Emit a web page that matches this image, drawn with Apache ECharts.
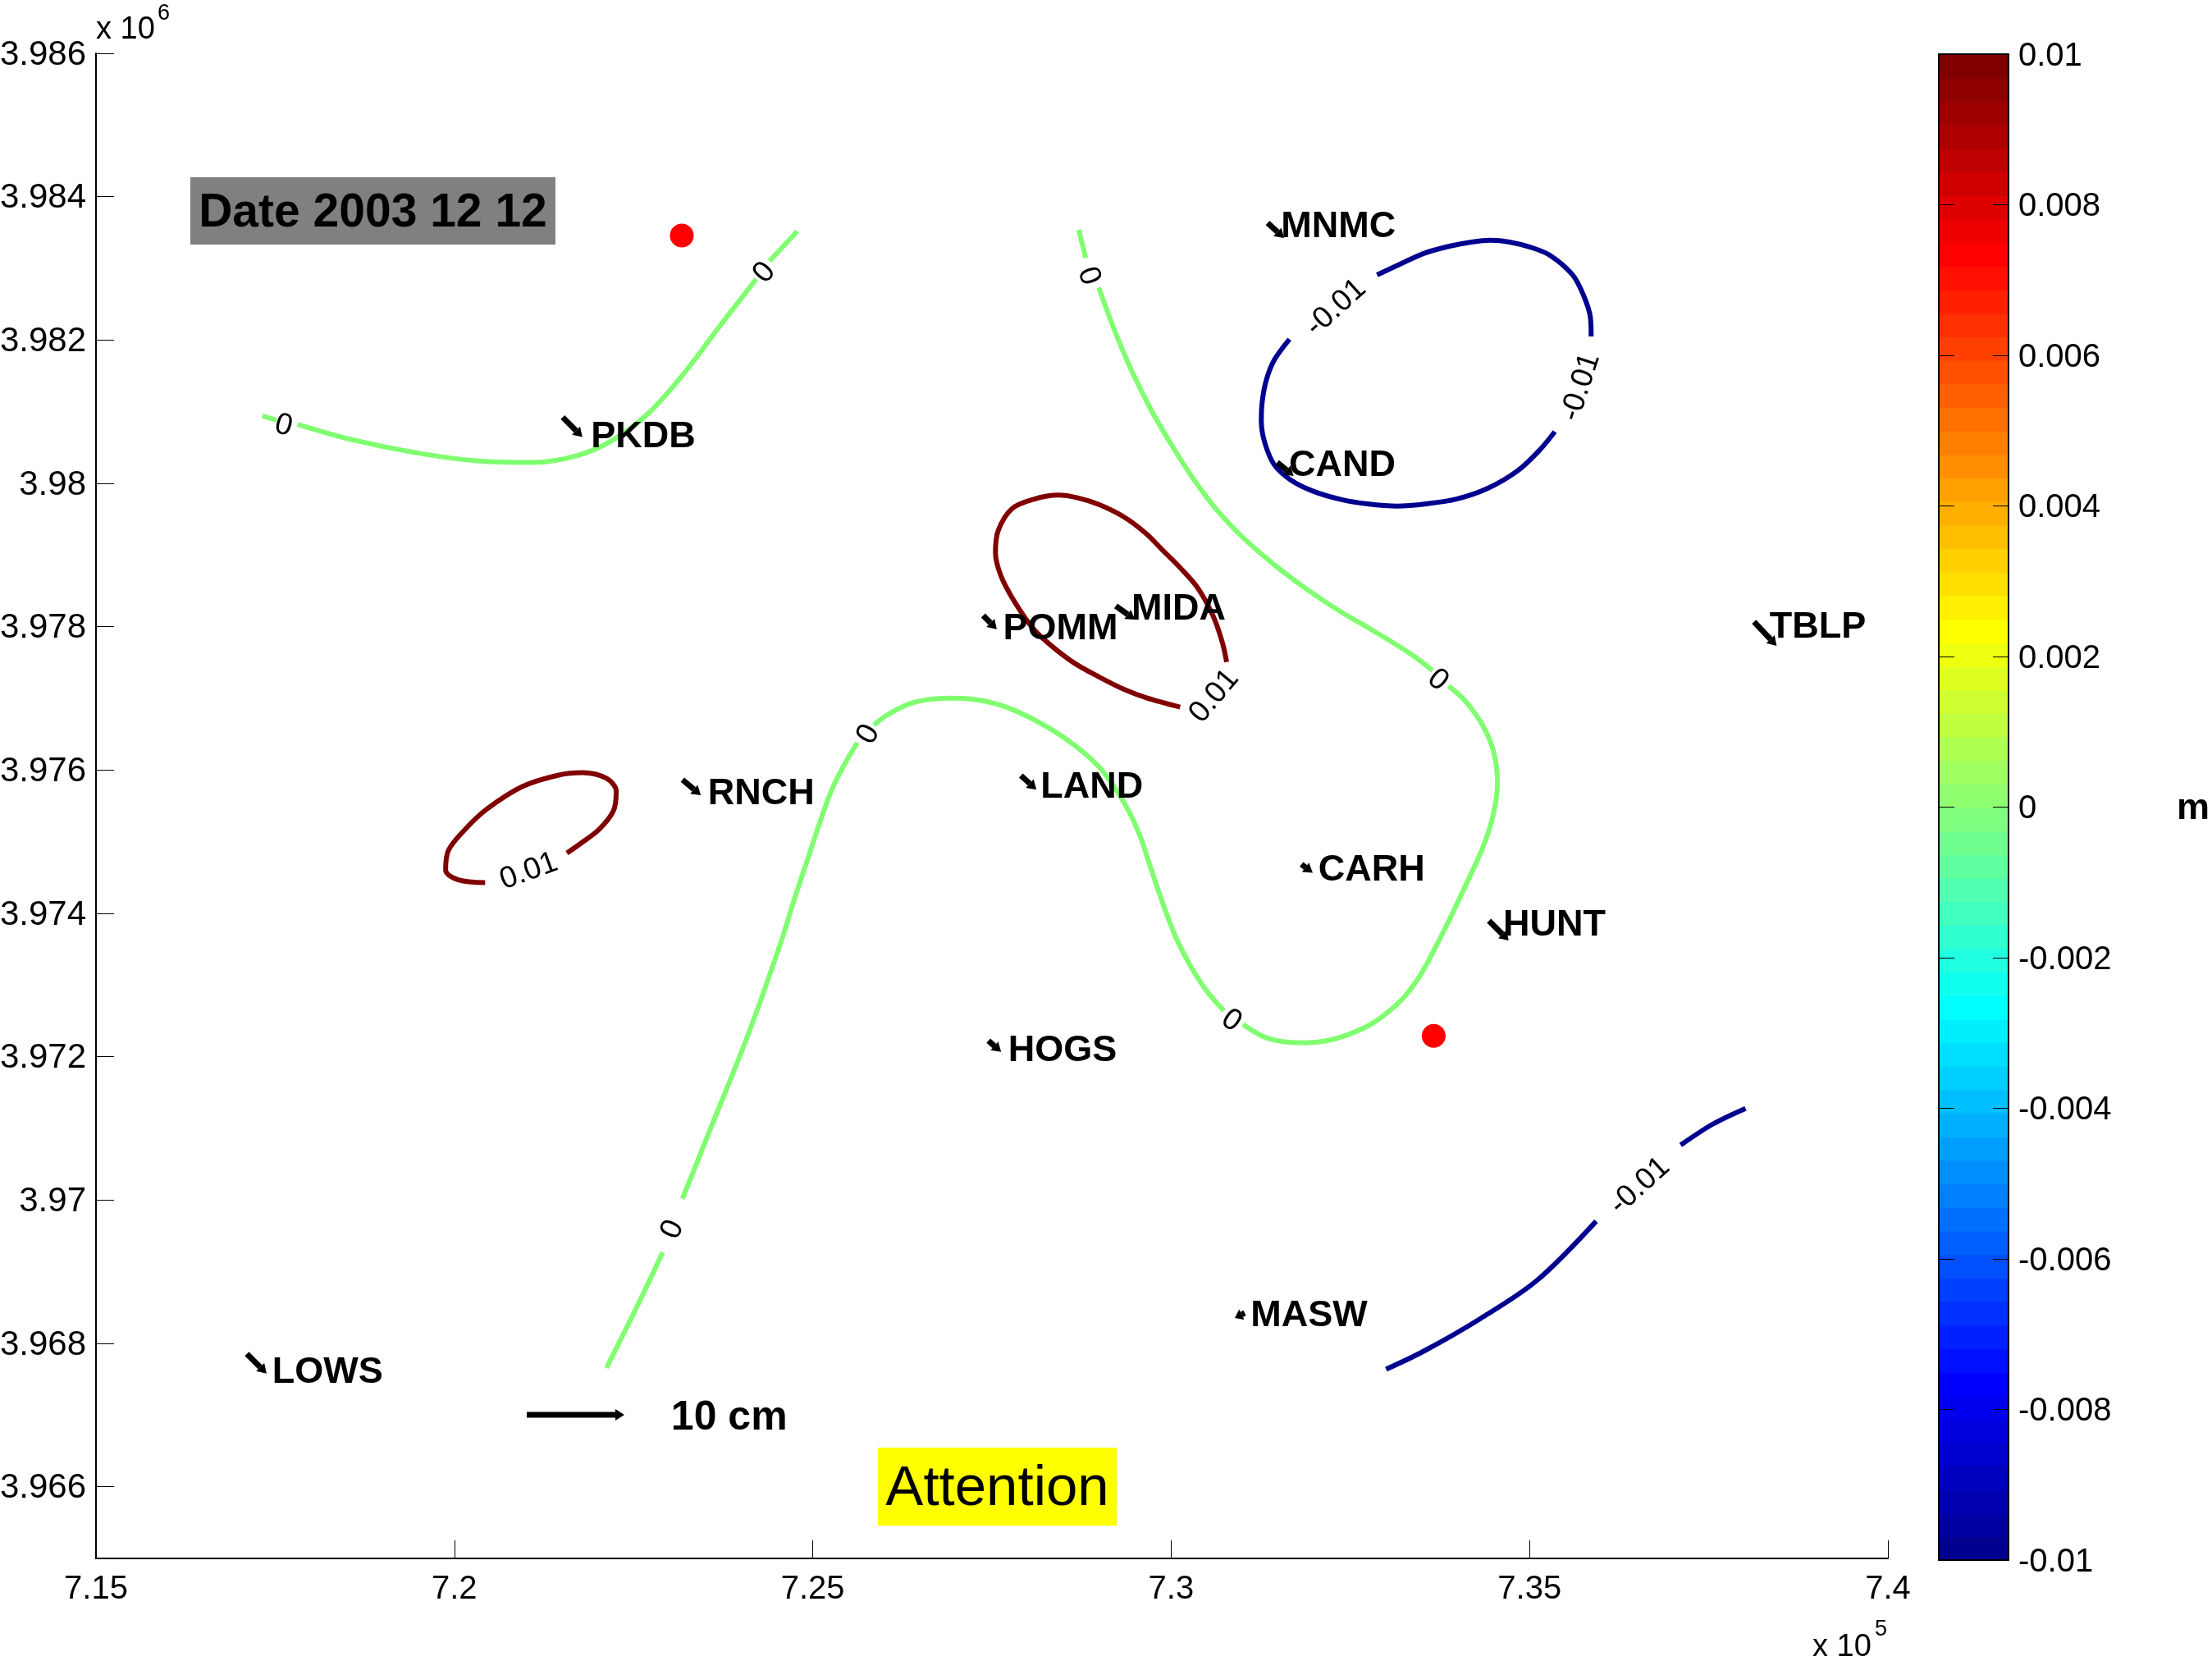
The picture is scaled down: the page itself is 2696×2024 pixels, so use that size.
<!DOCTYPE html>
<html>
<head>
<meta charset="utf-8">
<title>Date 2003 12 12</title>
<script src="https://cdn.jsdelivr.net/npm/echarts@6/dist/echarts.min.js"></script>
<style>
html, body { margin: 0; padding: 0; background: #fff; }
#chart { width: 2696px; height: 2024px; }
</style>
</head>
<body>
<div id="chart"></div>
<script>
'use strict';
// axis ticks, easting / northing in metres
let xTicks = [715000, 720000, 725000, 730000, 735000, 740000];
let yTicks = [3966000, 3968000, 3970000, 3972000, 3974000, 3976000, 3978000, 3980000, 3982000, 3984000, 3986000];

// contour pieces, split where the level label sits
let zeroLeftA = [[717320, 3980940], [717518, 3980883]];
let zeroLeftB = [[717813, 3980824], [718580, 3980608], [719563, 3980411], [720350, 3980312], [721098, 3980293], [721727, 3980391], [722219, 3980608], [722711, 3980982], [723202, 3981533], [723694, 3982182], [724211, 3982851]];
let zeroLeftC = [[724398, 3983103], [724784, 3983519]];
let zeroMainA = [[728710, 3983540], [728808, 3983146]];
let zeroMainB = [[728990, 3982730], [729228, 3982088], [729457, 3981554], [729724, 3981019], [729991, 3980561], [730296, 3980084], [730640, 3979626], [731021, 3979225], [731441, 3978863], [731899, 3978519], [732357, 3978214], [732815, 3977947], [733368, 3977603], [733644, 3977386]];
let zeroMainC = [[733873, 3977173], [734113, 3976952], [734342, 3976630], [734495, 3976269], [734552, 3975827], [734495, 3975385], [734342, 3974902], [734075, 3974321], [733885, 3973920], [733694, 3973539], [733465, 3973119], [733198, 3972775], [732816, 3972470], [732473, 3972310], [732167, 3972222], [731862, 3972195], [731557, 3972210], [731290, 3972279], [731003, 3972451]];
let zeroMainD = [[730736, 3972642], [730488, 3972928], [730278, 3973252], [730088, 3973615], [729935, 3973997], [729801, 3974378], [729687, 3974722], [729572, 3975065], [729419, 3975408], [729191, 3975790], [728962, 3976076], [728656, 3976343], [728351, 3976553], [727969, 3976763], [727588, 3976916], [727206, 3976992], [726901, 3977004], [726596, 3976981], [726329, 3976916], [726061, 3976782], [725852, 3976630]];
let zeroMainE = [[725623, 3976382], [725451, 3976095], [725260, 3975714], [725107, 3975294], [724955, 3974836], [724764, 3974263], [724535, 3973538], [724088, 3972283], [723497, 3970807], [723183, 3970020]];
let zeroMainF = [[722907, 3969272], [722514, 3968445], [722121, 3967658]];
let highCentre = [[730774, 3977507], [730716, 3977775], [730583, 3978156], [730373, 3978538], [730106, 3978843], [729877, 3979072], [729648, 3979301], [729343, 3979530], [728999, 3979702], [728694, 3979798], [728427, 3979836], [728083, 3979779], [727778, 3979645], [727587, 3979340], [727549, 3979034], [727625, 3978710], [727816, 3978347], [728083, 3977965], [728350, 3977717], [728656, 3977488], [728999, 3977297], [729343, 3977126], [729648, 3977011], [730125, 3976878]];
let highLeft = [[720429, 3974428], [720055, 3974468], [719878, 3974605], [719918, 3974881], [720154, 3975176], [720449, 3975452], [720940, 3975766], [721432, 3975924], [721786, 3975963], [722121, 3975884], [722258, 3975707], [722219, 3975432], [722022, 3975176], [721766, 3974979], [721570, 3974841]];
let lowTopA = [[732873, 3982909], [733197, 3983061], [733540, 3983214], [733884, 3983309], [734189, 3983367], [734456, 3983393], [734723, 3983367], [735029, 3983290], [735296, 3983176], [735601, 3982909], [735754, 3982622], [735849, 3982317], [735860, 3982050]];
let lowTopB = [[735353, 3980721], [735143, 3980466], [734838, 3980179], [734418, 3979931], [733980, 3979780], [733559, 3979714], [733158, 3979683], [732739, 3979714], [732357, 3979779], [731975, 3979893], [731670, 3980046], [731441, 3980256], [731308, 3980561], [731258, 3980867], [731270, 3981134], [731327, 3981439], [731441, 3981725], [731651, 3982012]];
let lowBottomA = [[732998, 3967639], [733529, 3967894], [734316, 3968347], [735103, 3968878], [735929, 3969705]];
let lowBottomB = [[737109, 3970768], [737562, 3971063], [738014, 3971279]];

let zeroPieces = [zeroLeftA, zeroLeftB, zeroLeftC, zeroMainA, zeroMainB, zeroMainC, zeroMainD, zeroMainE, zeroMainF];
let highPieces = [highCentre, highLeft];
let lowPieces = [lowTopA, lowTopB, lowBottomA, lowBottomB];

// contour labels
let contourLabelText = ['0', '0', '0', '0', '0', '0', '0', '0.01', '0.01', '-0.01', '-0.01', '-0.01'];
let contourLabelAt = [[717616, 3980804], [724326, 3982939], [728848, 3982891], [733720, 3977253], [730839, 3972501], [725779, 3976495], [723045, 3969587], [730602, 3977030], [721039, 3974586], [732300, 3982451], [735715, 3981344], [736539, 3970197]];
let contourLabelAngle = [-15, 50, -70, -40, -35, 60, 65, 50, 20, 42, 72, 42];

// GPS stations: arrow tail, arrow head, where the name starts
let stationNames = ['PKDB', 'MNMC', 'CAND', 'POMM', 'MIDA', 'TBLP', 'RNCH', 'LAND', 'CARH', 'HUNT', 'HOGS', 'MASW', 'LOWS'];
let stationTail = [[721511, 3980923], [731346, 3983634], [731480, 3980294], [727377, 3978156], [729228, 3978290], [738132, 3978069], [723183, 3975865], [727904, 3975924], [731818, 3974684], [734434, 3973897], [727451, 3972224], [731026, 3968424], [717105, 3967855]];
let stationHead = [[721786, 3980647], [731575, 3983424], [731709, 3980103], [727568, 3977965], [729495, 3978099], [738447, 3977734], [723438, 3975648], [728120, 3975727], [731975, 3974566], [734709, 3973621], [727628, 3972067], [730888, 3968355], [717380, 3967580]];
let stationNameAt = [[721904, 3980686], [731533, 3983622], [731643, 3980286], [727654, 3978011], [729446, 3978282], [738349, 3978030], [723537, 3975707], [728179, 3975806], [732054, 3974645], [734631, 3973877], [727727, 3972126], [731110, 3968426], [717459, 3967639]];

let redDots = [[723173, 3983458], [733663, 3972291]];
let scaleArrow = [721010, 3967004, 722372, 3967004];

// jet, 64 steps, bottom to top of the colour bar
let jetColors = [
    '#000090', '#0000a0', '#0000b0', '#0000bf', '#0000cf', '#0000df', '#0000ef', '#0000ff',
    '#0010ff', '#0020ff', '#0030ff', '#0040ff', '#0050ff', '#0060ff', '#0070ff', '#0080ff',
    '#008fff', '#009fff', '#00afff', '#00bfff', '#00cfff', '#00dfff', '#00efff', '#00ffff',
    '#10ffef', '#20ffdf', '#30ffcf', '#40ffbf', '#50ffaf', '#60ff9f', '#70ff8f', '#80ff80',
    '#8fff70', '#9fff60', '#afff50', '#bfff40', '#cfff30', '#dfff20', '#efff10', '#ffff00',
    '#ffef00', '#ffdf00', '#ffcf00', '#ffbf00', '#ffaf00', '#ff9f00', '#ff8f00', '#ff8000',
    '#ff7000', '#ff6000', '#ff5000', '#ff4000', '#ff3000', '#ff2000', '#ff1000', '#ff0000',
    '#ef0000', '#df0000', '#cf0000', '#bf0000', '#af0000', '#9f0000', '#8f0000', '#800000',
];
let colorMin = -0.01;
let colorMax = 0.01;

let zeroColor = '#80ff70';
let highColor = '#800000';
let lowColor = '#00008f';
let fontName = '"Liberation Sans", Arial, sans-serif';

let myChart = echarts.init(document.getElementById('chart'), null, {renderer: 'canvas'});

function contourSeries(piece, color) {
    return {
        type: 'line',
        data: piece,
        smooth: 0.33,
        showSymbol: false,
        silent: true,
        animation: false,
        lineStyle: {color: color, width: 6, cap: 'butt'},
        z: 2,
    };
}

// quiver style arrow: thick shaft with a small head
function renderArrow(params, api) {
    let a = api.coord([api.value(0), api.value(1)]);
    let b = api.coord([api.value(2), api.value(3)]);
    let len = Math.sqrt((b[0] - a[0]) * (b[0] - a[0]) + (b[1] - a[1]) * (b[1] - a[1]));
    let ux = (b[0] - a[0]) / len;
    let uy = (b[1] - a[1]) / len;
    let headLen = Math.min(11, len * 0.7);
    let headHalf = 7;
    let base = [b[0] - ux * headLen, b[1] - uy * headLen];
    return {
        type: 'group',
        children: [
            {
                type: 'line',
                shape: {x1: a[0], y1: a[1], x2: base[0], y2: base[1]},
                style: {stroke: '#000', lineWidth: 7},
            },
            {
                type: 'polygon',
                shape: {points: [b, [base[0] - uy * headHalf, base[1] + ux * headHalf], [base[0] + uy * headHalf, base[1] - ux * headHalf]]},
                style: {fill: '#000'},
            },
        ],
    };
}

function renderColorCell(params, api) {
    let lo = api.coord([0, api.value(0)]);
    let hi = api.coord([1, api.value(1)]);
    return {
        type: 'rect',
        shape: {x: lo[0], y: hi[1], width: hi[0] - lo[0], height: lo[1] - hi[1] + 1},
        style: {fill: jetColors[params.dataIndex]},
    };
}

let colorCells = [];
for (let i = 0; i < jetColors.length; i++) {
    let step = (colorMax - colorMin) / jetColors.length;
    colorCells.push([colorMin + i * step, colorMin + (i + 1) * step]);
}

let arrowData = [];
for (let i = 0; i < stationNames.length; i++) {
    arrowData.push([stationTail[i][0], stationTail[i][1], stationHead[i][0], stationHead[i][1]]);
}
arrowData.push(scaleArrow);

let contourLabelData = [];
for (let i = 0; i < contourLabelText.length; i++) {
    contourLabelData.push({
        value: contourLabelAt[i],
        label: {formatter: contourLabelText[i], rotate: contourLabelAngle[i]},
    });
}

let stationLabelData = [];
for (let i = 0; i < stationNames.length; i++) {
    stationLabelData.push({value: stationNameAt[i], label: {formatter: stationNames[i]}});
}

let series = [];
zeroPieces.forEach(function(p) { series.push(contourSeries(p, zeroColor)); });
highPieces.forEach(function(p) { series.push(contourSeries(p, highColor)); });
lowPieces.forEach(function(p) { series.push(contourSeries(p, lowColor)); });

series.push({
    type: 'scatter',
    data: redDots,
    symbolSize: 29,
    itemStyle: {color: '#ff0000', opacity: 1},
    silent: true,
    z: 3,
});
series.push({
    type: 'custom',
    data: arrowData,
    renderItem: renderArrow,
    encode: {x: [0, 2], y: [1, 3]},
    silent: true,
    z: 4,
});
series.push({
    type: 'scatter',
    data: contourLabelData,
    symbolSize: 0,
    itemStyle: {opacity: 1},
    silent: true,
    z: 5,
    label: {show: true, position: 'inside', align: 'center', verticalAlign: 'middle', fontFamily: fontName, fontSize: 37, color: '#000'},
});
series.push({
    type: 'scatter',
    data: stationLabelData,
    symbolSize: 0,
    itemStyle: {opacity: 1},
    silent: true,
    z: 5,
    label: {show: true, position: 'inside', offset: [0, 4], align: 'left', verticalAlign: 'middle', fontFamily: fontName, fontSize: 45, fontWeight: 'bold', color: '#000'},
});
// text boxes on the map: the box first, the words on top of it
series.push({
    type: 'scatter',
    data: [
        {
            value: [718863, 3983802],
            label: {formatter: ' ', backgroundColor: '#808080', width: 445, height: 82, lineHeight: 82},
        },
        {
            value: [727575, 3966003],
            label: {formatter: ' ', backgroundColor: '#ffff00', width: 291, height: 95, lineHeight: 95},
        },
    ],
    symbolSize: 0,
    itemStyle: {opacity: 1},
    silent: true,
    z: 6,
    label: {show: true, position: 'inside', align: 'center', verticalAlign: 'middle', fontFamily: fontName, color: '#000'},
});
series.push({
    type: 'scatter',
    data: [
        {value: [718863, 3983802], label: {formatter: 'Date 2003 12 12', fontSize: 57, fontWeight: 'bold', offset: [0, 3]}},
        {value: [727575, 3966003], label: {formatter: 'Attention', fontSize: 69, offset: [0, 4]}},
        {value: [723834, 3966960], label: {formatter: '10 cm', fontSize: 50, fontWeight: 'bold'}},
    ],
    symbolSize: 0,
    itemStyle: {opacity: 1},
    silent: true,
    z: 7,
    label: {show: true, position: 'inside', align: 'center', verticalAlign: 'middle', fontFamily: fontName, color: '#000'},
});
series.push({
    type: 'custom',
    xAxisIndex: 1,
    yAxisIndex: 1,
    data: colorCells,
    renderItem: renderColorCell,
    encode: {y: [0, 1]},
    silent: true,
    z: 1,
});

let axisFont = {fontFamily: fontName, fontSize: 40, color: '#000'};
let blackLine = {show: true, onZero: false, lineStyle: {color: '#000', width: 2}};

let option = {
    backgroundColor: '#fff',
    animation: false,
    grid: [
        {left: 117, top: 65, width: 2184, height: 1834, outerBoundsMode: 'none'},
        {left: 2363, top: 66, width: 85, height: 1835, outerBoundsMode: 'none'},
    ],
    xAxis: [
        {
            type: 'value',
            gridIndex: 0,
            min: 715000,
            max: 740000,
            interval: 5000,
            splitLine: {show: false},
            axisLine: blackLine,
            axisTick: {inside: true, length: 22, lineStyle: {color: '#000', width: 1}, customValues: xTicks},
            axisLabel: Object.assign({}, axisFont, {
                margin: 18,
                customValues: xTicks,
                formatter: function(v) { return String(+(v / 1e5).toFixed(2)); },
            }),
        },
        {
            type: 'value', gridIndex: 1, min: 0, max: 1, position: 'bottom',
            axisLine: blackLine, axisTick: {show: false}, axisLabel: {show: false}, splitLine: {show: false}, z: 6,
        },
        {
            type: 'value', gridIndex: 1, min: 0, max: 1, position: 'top',
            axisLine: blackLine, axisTick: {show: false}, axisLabel: {show: false}, splitLine: {show: false}, z: 6,
        },
    ],
    yAxis: [
        {
            type: 'value',
            gridIndex: 0,
            min: 3965000,
            max: 3986000,
            splitLine: {show: false},
            axisLine: blackLine,
            axisTick: {inside: true, length: 22, lineStyle: {color: '#000', width: 1}, customValues: yTicks},
            axisLabel: Object.assign({}, axisFont, {
                margin: 12,
                fontSize: 42,
                verticalAlign: 'top',
                lineHeight: 4,
                customValues: yTicks,
                formatter: function(v) { return String(+(v / 1e6).toFixed(3)); },
            }),
        },
        {
            type: 'value', gridIndex: 1, min: colorMin, max: colorMax, interval: 0.002, position: 'right',
            splitLine: {show: false},
            axisLine: blackLine,
            axisTick: {inside: true, length: 19, lineStyle: {color: '#000', width: 1}},
            axisLabel: Object.assign({}, axisFont, {margin: 12, verticalAlign: 'top', lineHeight: 5}),
            z: 6,
        },
        {
            type: 'value', gridIndex: 1, min: colorMin, max: colorMax, interval: 0.002, position: 'left',
            splitLine: {show: false},
            axisLine: blackLine,
            axisTick: {inside: true, length: 19, lineStyle: {color: '#000', width: 1}},
            axisLabel: {show: false},
            z: 6,
        },
    ],
    series: series,
    // axis multipliers and the colour bar unit
    graphic: [
        {type: 'text', left: 117, top: 18, style: {text: 'x 10', font: '38px ' + fontName, fill: '#000'}},
        {type: 'text', left: 192, top: 3, style: {text: '6', font: '27px ' + fontName, fill: '#000'}},
        {type: 'text', left: 2209, top: 1989, style: {text: 'x 10', font: '38px ' + fontName, fill: '#000'}},
        {type: 'text', left: 2285, top: 1972, style: {text: '5', font: '27px ' + fontName, fill: '#000'}},
        {type: 'text', left: 2653, top: 963, style: {text: 'm', font: 'bold 45px ' + fontName, fill: '#000'}},
    ],
};
myChart.setOption(option);
</script>
</body>
</html>
